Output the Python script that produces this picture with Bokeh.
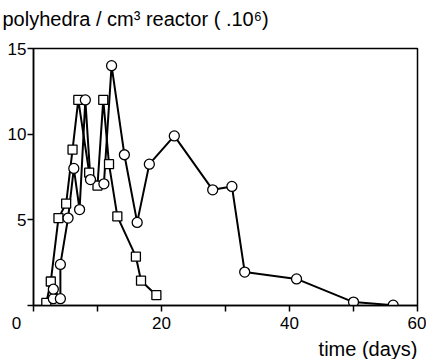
from bokeh.plotting import figure
from bokeh.models import Range1d, FixedTicker, Title
from bokeh.embed import file_html
from bokeh.resources import INLINE

# Series A (squares)
sq_days = [2.0, 2.7, 3.9, 5.1, 6.1, 7.0, 8.7, 10.0, 10.9, 11.8, 13.1, 16.0, 16.8, 19.2]
sq_vals = [0.15, 1.4, 5.1, 5.95, 9.1, 12.0, 7.75, 7.0, 12.0, 8.25, 5.2, 2.85, 1.45, 0.6]

# Series B (circles)
ci_days = [3.1, 3.1, 4.2, 4.2, 5.4, 6.3, 7.2, 8.1, 8.9, 11.0, 12.2, 14.2, 16.2, 18.1,
           22.0, 28.0, 31.0, 33.0, 41.1, 50.0, 56.2]
ci_vals = [0.4, 0.95, 0.4, 2.4, 5.1, 8.0, 5.6, 12.0, 7.35, 7.1, 14.0, 8.8, 4.85, 8.25,
           9.9, 6.75, 6.95, 1.95, 1.55, 0.2, 0.02]

x_ticks = [0, 10, 20, 30, 40, 50, 60]
x_labels = {0: "0\u2003\u2003", 10: "", 20: "20", 30: "", 40: "40", 50: "", 60: "60"}
y_ticks = [0, 5, 10, 15]
y_labels = {0: "", 5: "5", 10: "10", 15: "15"}

title_text = "polyhedra / cm\u00b3 reactor ( .10\u2076)"
xlabel_text = "time (days)"

FONT = "Liberation Sans"

p = figure(width=426, height=359, output_backend="svg", toolbar_location=None,
           x_range=Range1d(0, 60), y_range=Range1d(0, 15),
           min_border_left=33, min_border_right=9, min_border_top=0, min_border_bottom=0)
p.background_fill_color = "white"
p.border_fill_color = "white"
p.outline_line_color = "black"
p.outline_line_width = 1.5
p.grid.visible = False

p.title.text = title_text
p.title.align = "left"
p.title.offset = -31
p.title.text_font = FONT
p.title.text_font_size = "20px"
p.title.text_font_style = "normal"
p.title.text_color = "black"

spacer = Title(text=" ", text_font_size="2px")
p.above = [spacer] + list(p.above)

for ax in (p.xaxis[0], p.yaxis[0]):
    ax.axis_line_width = 1.5
    ax.major_tick_line_width = 1.5
    ax.major_tick_in = 0
    ax.major_tick_out = 6
    ax.minor_tick_line_color = None
    ax.major_label_text_font = FONT
    ax.major_label_text_font_size = "17px"
    ax.major_label_text_color = "black"

p.xaxis[0].ticker = FixedTicker(ticks=x_ticks)
p.xaxis[0].major_label_overrides = x_labels
p.xaxis[0].major_label_standoff = 2
p.yaxis[0].ticker = FixedTicker(ticks=y_ticks)
p.yaxis[0].major_label_overrides = y_labels
p.yaxis[0].major_label_standoff = 1

p.line(sq_days, sq_vals, line_color="black", line_width=2)
p.line(ci_days, ci_vals, line_color="black", line_width=2)
p.scatter(sq_days, sq_vals, marker="square", size=9, fill_color="white",
          line_color="black", line_width=1.3)
p.scatter(ci_days, ci_vals, marker="circle", size=10, fill_color="white",
          line_color="black", line_width=1.3)

p.add_layout(Title(text=xlabel_text, align="right", text_font=FONT,
                   text_font_size="20px", text_font_style="normal",
                   text_line_height=0.9, text_color="black", standoff=0), "below")

open("out.html", "w").write(file_html(p, INLINE))
